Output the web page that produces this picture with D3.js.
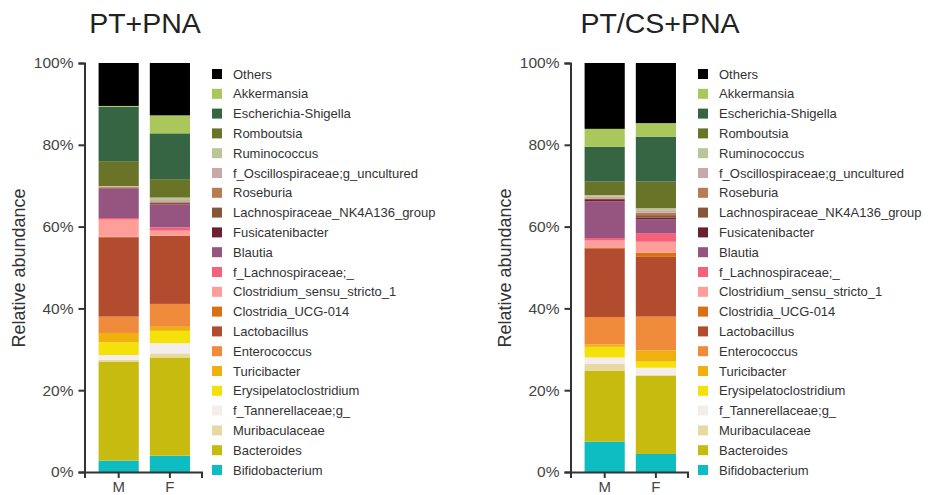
<!DOCTYPE html>
<html>
<head>
<meta charset="utf-8">
<script src="https://cdn.jsdelivr.net/npm/d3@7"></script>
<style>
  html, body { margin: 0; padding: 0; background: #fff; }
  svg { display: block; font-family: "Liberation Sans", Arial, Helvetica, sans-serif; }
</style>
</head>
<body>
<svg id="chart" width="937" height="495"></svg>
<script>
// ---- data (legend order, top to bottom) ----
const groups = ["M", "F"];
const panelTitles = ["PT+PNA", "PT/CS+PNA"];
const taxa = [
  "Others", "Akkermansia", "Escherichia-Shigella", "Romboutsia", "Ruminococcus",
  "f_Oscillospiraceae;g_uncultured", "Roseburia", "Lachnospiraceae_NK4A136_group",
  "Fusicatenibacter", "Blautia", "f_Lachnospiraceae;_", "Clostridium_sensu_stricto_1",
  "Clostridia_UCG-014", "Lactobacillus", "Enterococcus", "Turicibacter",
  "Erysipelatoclostridium", "f_Tannerellaceae;g_", "Muribaculaceae", "Bacteroides",
  "Bifidobacterium"
];
const taxaColors = [
  "#000000", "#a9c75b", "#366543", "#6a7429", "#bac59a",
  "#c8a9aa", "#b97b52", "#875638", "#6d1f2f", "#955580",
  "#f6607a", "#fd9f98", "#d87111", "#b34b2f", "#f08b3b",
  "#f0b10d", "#f4e10a", "#f3eeec", "#e8d9a2", "#c8bb10", "#0ebdc1"
];
// relative abundance (%) per taxon, same order as taxa
const ptpna_M = [10.5, 0.2, 13.3, 6.1, 0.1, 0.1, 0.2, 0.2, 0.1, 7.1, 0.4, 4.2, 0.1, 19.4, 4.0, 2.3, 3.1, 1.2, 0.4, 24.2, 2.8];
const ptpna_F = [12.8, 4.4, 11.2, 4.5, 0.6, 0.5, 0.2, 0.3, 0.1, 5.6, 0.8, 1.2, 0.1, 16.6, 5.6, 1.0, 3.0, 2.5, 1.0, 24.0, 4.0];
const ptcs_M  = [16.1, 4.4, 8.5, 3.3, 0.3, 0.5, 0.1, 0.3, 0.3, 9.0, 0.6, 1.7, 0.2, 16.8, 6.7, 0.6, 2.6, 1.6, 1.6, 17.4, 7.4];
const ptcs_F  = [14.7, 3.3, 11.0, 6.5, 0.5, 0.6, 0.6, 0.6, 0.4, 3.4, 2.1, 2.7, 1.0, 14.6, 8.3, 2.7, 1.5, 1.8, 0.2, 19.1, 4.4];
const yTicks = [0, 20, 40, 60, 80, 100];
const panelValues = [[ptpna_M, ptpna_F], [ptcs_M, ptcs_F]];

// ---- drawing ----
const svg = d3.select("#chart");
const font = '"Liberation Sans", Arial, Helvetica, sans-serif';
const color = d3.scaleOrdinal().domain(taxa).range(taxaColors);
const y = d3.scaleLinear().domain([0, 100]).range([472, 63]);
const stackOrder = taxa.slice().reverse(); // bottom to top

panelTitles.forEach((title, p) => {
  const off = p * 486;
  const g = svg.append("g").attr("transform", `translate(${off},0)`);
  const axisX = 84.5;

  // title
  g.append("text")
    .attr("x", 145 + (p === 1 ? 29 : 0)).attr("y", 33)
    .attr("text-anchor", "middle")
    .attr("font-size", 28.5).attr("fill", "#222")
    .text(title);

  // x scale
  const x = d3.scaleBand().domain(groups).range([axisX, axisX + 117])
    .paddingInner(11 / 51).paddingOuter(0.25).align(0.55);

  // stacked data
  const rows = groups.map((grp, i) => {
    const o = { group: grp };
    taxa.forEach((t, k) => { o[t] = panelValues[p][i][k]; });
    return o;
  });
  const series = d3.stack().keys(stackOrder)(rows);

  g.append("g").selectAll("g").data(series).join("g")
    .attr("fill", d => color(d.key))
    .selectAll("rect").data(d => d).join("rect")
      .attr("x", d => x(d.data.group))
      .attr("width", x.bandwidth())
      .attr("y", d => y(d[1]))
      .attr("height", d => Math.max(0, y(d[0]) - y(d[1])));

  // y axis
  const ya = g.append("g").attr("transform", `translate(${axisX},0)`)
    .call(d3.axisLeft(y).tickValues(yTicks).tickFormat(d => d + "%").tickSize(6).tickPadding(5));
  ya.select(".domain").attr("stroke", "#333").attr("stroke-width", 2);
  ya.selectAll(".tick line").attr("stroke", "#333").attr("stroke-width", 2);
  ya.selectAll(".tick text").attr("font-size", 15.5).attr("fill", "#444").attr("font-family", font);

  // x axis
  const xa = g.append("g").attr("transform", `translate(0,472)`)
    .call(d3.axisBottom(x).tickSizeOuter(0).tickSize(6).tickPadding(2));
  xa.select(".domain").attr("stroke", "#333").attr("stroke-width", 2);
  xa.selectAll(".tick line").attr("stroke", "#333").attr("stroke-width", 2);
  xa.selectAll(".tick text").attr("font-size", 15).attr("fill", "#444").attr("font-family", font)
    .attr("dy", null).attr("y", 19.5);

  // y label
  g.append("text")
    .attr("transform", `translate(25,268) rotate(-90)`)
    .attr("text-anchor", "middle")
    .attr("font-size", 18).attr("fill", "#333")
    .text("Relative abundance");

  // legend
  const lg = g.append("g");
  const items = lg.selectAll("g").data(taxa).join("g")
    .attr("transform", (d, i) => `translate(212,${74 + i * 19.8})`);
  items.append("rect").attr("x", 0).attr("y", -5).attr("width", 10).attr("height", 10)
    .attr("fill", d => color(d));
  items.append("text").attr("x", 21).attr("y", 0).attr("dy", "0.35em")
    .attr("font-size", 13).attr("fill", "#333").text(d => d);
});
</script>
</body>
</html>
